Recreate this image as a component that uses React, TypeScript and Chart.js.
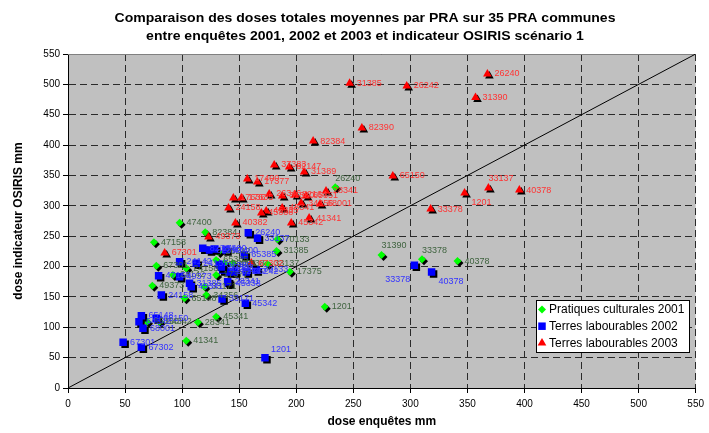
import React, { useEffect, useRef } from 'react';
import { Chart, registerables } from 'chart.js';
import { drawPoint } from 'chart.js/helpers';

Chart.register(...registerables);

// ---------- text ----------
const TITLE_LINES = [
  'Comparaison des doses totales moyennes par PRA sur 35 PRA communes',
  'entre enquêtes 2001, 2002 et 2003 et indicateur OSIRIS scénario 1',
];
const X_TITLE = 'dose enquêtes mm';
const Y_TITLE = 'dose indicateur OSIRIS mm';
const SERIES_NAMES = ['Pratiques culturales 2001', 'Terres labourables 2002', 'Terres labourables 2003'];

// ---------- axes ----------
const AXIS_MIN = 0;
const AXIS_MAX = 550;
const AXIS_STEP = 50;
const DIAGONAL = [0, 550];

// ---------- Pratiques culturales 2001 ----------
const PC2001_LABELS = ['47400', '82384', '47158', '67301', '49373', '24142', '24158', '65385', '45338', '17377', '33171', '65148', '34356', '45341', '28341', '41341', '65150', '64342', '1201', '17375', '31385', '70133', '31390', '33378', '40378', '26240', '68001', '26242', '33137'];
const PC2001_X = [97.8, 120.2, 75.3, 77.4, 73.9, 91.9, 103.6, 129.8, 144.3, 129.8, 119.6, 102.1, 121.1, 129.8, 113.8, 103.6, 69.2, 80.3, 225.0, 194.4, 182.7, 183.6, 274.7, 310.2, 341.3, 234.2, 137.1, 131.8, 174.6];
const PC2001_Y = [272.2, 256.4, 239.9, 201.4, 168.5, 186.1, 197.1, 210.8, 205.3, 186.1, 166.8, 147.7, 153.1, 117.4, 108.2, 77.9, 109.2, 109.2, 133.9, 191.5, 225.6, 244.9, 219.0, 211.9, 209.1, 330.5, 205.8, 224.0, 204.2];

// ---------- Terres labourables 2002 ----------
const TL2002_LABELS = ['1201', '33378', '40378', '67301', '67302', '24158', '65148', '64342', '68001', '65150', '45338', '33171', '45342', '26240', '33137', '82384', '82390', '47400', '24142', '24155', '31389', '41341', '47158', '49373', '31385', '45341', '17377', '82147', '28341', '65385', '70133', '17400', '37383', '26242'];
const TL2002_X = [172.6, 303.5, 318.6, 48.3, 64.3, 81.8, 64.3, 62.2, 65.7, 77.4, 140.8, 135.0, 155.4, 158.0, 166.1, 118.1, 124.0, 138.5, 97.8, 112.4, 132.7, 135.6, 79.4, 97.8, 106.5, 108.0, 141.4, 145.8, 139.9, 154.5, 165.0, 128.3, 134.4, 156.3];
const TL2002_Y = [49.9, 202.1, 191.0, 75.3, 67.0, 153.1, 119.1, 109.2, 98.3, 114.8, 172.4, 146.6, 139.5, 255.7, 246.5, 230.0, 227.2, 227.2, 208.0, 205.3, 202.5, 194.3, 184.9, 183.3, 172.4, 166.8, 191.0, 191.0, 175.0, 219.0, 194.3, 228.9, 199.2, 191.0];

// ---------- Terres labourables 2003 ----------
const TL2003_LABELS = ['31385', '26242', '26240', '31390', '82390', '82384', '65150', '33137', '1201', '40378', '33378', '37383', '82147', '31389', '17400', '17377', '17636', '17635', '26346', '31380', '82164', '65351', '28341', '34356', '68001', '45341', '45335', '45338', '24158', '41341', '45342', '40382', '49373', '67301', '67302'];
const TL2003_X = [246.8, 296.8, 367.5, 357.1, 257.5, 214.8, 284.6, 368.4, 347.5, 395.5, 317.8, 180.7, 193.8, 206.9, 157.1, 165.9, 144.9, 151.9, 176.3, 187.7, 199.0, 208.6, 226.1, 204.3, 220.9, 187.7, 173.7, 169.4, 140.6, 211.3, 195.6, 146.7, 123.1, 84.7, 160.6];
const TL2003_Y = [501.8, 497.3, 517.1, 478.2, 428.2, 406.7, 349.1, 329.4, 321.1, 326.0, 294.7, 367.2, 363.9, 355.7, 344.2, 339.2, 312.9, 312.9, 319.5, 316.2, 317.8, 316.2, 324.4, 304.6, 303.0, 296.4, 291.5, 288.2, 296.4, 279.9, 271.7, 271.7, 248.7, 222.3, 205.8];

// label placement exceptions (default: right of the marker)
const PC2001_LABEL_PLACE: Record<string, string> = { '26240': 'above', '31390': 'above', '33378': 'above' };
const TL2002_LABEL_PLACE: Record<string, string> = { '1201': 'aboveRight', '33378': 'belowLeft', '40378': 'below' };
const TL2003_LABEL_PLACE: Record<string, string> = { '33137': 'above', '1201': 'below' };

const FONT = '"Liberation Sans", Arial, sans-serif';

const toPoints = (xs: number[], ys: number[]) => xs.map((x, i) => ({ x, y: ys[i] }));

const backgroundPlugin = {
  id: 'bgPlot',
  beforeDraw(chart: any) {
    const { ctx, chartArea: a } = chart;
    ctx.save();
    ctx.fillStyle = '#ffffff';
    ctx.fillRect(0, 0, chart.width, chart.height);
    ctx.fillStyle = '#C0C0C0';
    ctx.fillRect(a.left, a.top, a.right - a.left, a.bottom - a.top);
    ctx.restore();
  },
  beforeDatasetsDraw(chart: any) {
    const { ctx, chartArea: a } = chart;
    ctx.save();
    ctx.strokeStyle = '#808080';
    ctx.lineWidth = 1;
    ctx.beginPath();
    ctx.moveTo(a.left, a.top + 0.5);
    ctx.lineTo(a.right, a.top + 0.5);
    ctx.stroke();
    ctx.restore();
  },
};

const shadowPlugin = {
  id: 'markerShadow',
  beforeDatasetDraw(chart: any, args: any) {
    const ds = chart.data.datasets[args.index];
    if (ds.showLine) return;
    const ctx = chart.ctx;
    ctx.save();
    ctx.shadowColor = '#000000';
    ctx.shadowOffsetX = 2;
    ctx.shadowOffsetY = 2;
    ctx.shadowBlur = 0;
  },
  afterDatasetDraw(chart: any, args: any) {
    const ds = chart.data.datasets[args.index];
    if (ds.showLine) return;
    chart.ctx.restore();
  },
};

const pointLabelPlugin = {
  id: 'pointLabels',
  afterDatasetsDraw(chart: any) {
    const ctx = chart.ctx;
    chart.data.datasets.forEach((ds: any, i: number) => {
      if (!ds.pointLabels) return;
      const meta = chart.getDatasetMeta(i);
      ctx.save();
      ctx.font = `9px ${FONT}`;
      ctx.fillStyle = ds.labelColor;
      ctx.textBaseline = 'middle';
      meta.data.forEach((el: any, j: number) => {
        const text = ds.pointLabels[j];
        const place = (ds.labelPlace && ds.labelPlace[text]) || 'right';
        let dx = 7;
        let dy = 0;
        let align: CanvasTextAlign = 'left';
        if (place === 'above') { dx = 0; dy = -9; }
        else if (place === 'aboveRight') { dx = 6; dy = -8; }
        else if (place === 'below') { dx = 7; dy = 10; }
        else if (place === 'belowLeft') { dx = -4; dy = 14; align = 'right'; }
        ctx.textAlign = align;
        ctx.fillText(text, el.x + dx, el.y + dy);
      });
      ctx.restore();
    });
  },
};

const titlePlugin = {
  id: 'customTitle',
  afterDraw(chart: any) {
    const ctx = chart.ctx;
    ctx.save();
    ctx.font = `bold 13.5px ${FONT}`;
    ctx.fillStyle = '#000000';
    ctx.textAlign = 'center';
    ctx.textBaseline = 'alphabetic';
    TITLE_LINES.forEach((t, i) => {
      ctx.save();
      ctx.translate(365, 22 + i * 17.5);
      ctx.scale(1.04, 1);
      ctx.fillText(t, 0, 0);
      ctx.restore();
    });
    ctx.restore();
  },
};

const legendPlugin = {
  id: 'boxLegend',
  afterDraw(chart: any) {
    const { ctx, chartArea: a } = chart;
    const items = chart.data.datasets.filter((d: any) => d.inLegend);
    ctx.save();
    ctx.font = `12px ${FONT}`;
    const textW = Math.max(...items.map((d: any) => ctx.measureText(d.label).width));
    const rowH = 16.7;
    const boxW = Math.round(13 + textW + 5);
    const boxH = Math.round(rowH * items.length + 2);
    const right = Math.round(a.right - 7);
    const bottom = Math.round(a.bottom - 36);
    const left = right - boxW;
    const top = bottom - boxH;
    ctx.fillStyle = '#ffffff';
    ctx.fillRect(left, top, boxW, boxH);
    ctx.strokeStyle = '#000000';
    ctx.lineWidth = 1;
    ctx.strokeRect(left + 0.5, top + 0.5, boxW, boxH);
    items.forEach((d: any, k: number) => {
      const cy = top + 9.5 + k * rowH;
      ctx.fillStyle = d.backgroundColor;
      drawPoint(ctx, { pointStyle: d.pointStyle, radius: d.pointRadius, borderWidth: 0, rotation: 0 } as any, left + 6, cy);
      ctx.fillStyle = '#000000';
      ctx.textAlign = 'left';
      ctx.textBaseline = 'middle';
      ctx.fillText(d.label, left + 13, cy + 0.5);
    });
    ctx.restore();
  },
};

export default function App() {
  const canvasRef = useRef<HTMLCanvasElement | null>(null);

  useEffect(() => {
    if (!canvasRef.current) return;
    Chart.defaults.font.family = FONT;
    const axisCommon = (title: string, tickPad: number) => ({
      type: 'linear' as const,
      min: AXIS_MIN,
      max: AXIS_MAX,
      ticks: {
        stepSize: AXIS_STEP,
        color: '#000000',
        font: { family: FONT, size: 10 },
        padding: tickPad,
        maxRotation: 0,
        autoSkip: false,
      },
      grid: {
        color: '#2a2a2a',
        lineWidth: 1,
        tickLength: 5,
        tickColor: '#000000',
        tickBorderDash: [],
      },
      border: { display: true, color: '#000000', width: 1, dash: [7, 4] },
      title: {
        display: true,
        text: title,
        color: '#000000',
        font: { family: FONT, size: 12, weight: 'bold' as const },
        padding: { top: 11, bottom: 4 },
      },
    });

    const chart = new Chart(canvasRef.current, {
      type: 'scatter',
      data: {
        datasets: [
          {
            label: 'diagonal',
            data: [
              { x: DIAGONAL[0], y: DIAGONAL[0] },
              { x: DIAGONAL[1], y: DIAGONAL[1] },
            ],
            showLine: true,
            borderColor: '#000000',
            borderWidth: 1,
            pointRadius: 0,
            order: 5,
          } as any,
          {
            label: SERIES_NAMES[0],
            data: toPoints(PC2001_X, PC2001_Y),
            pointStyle: 'rectRot',
            pointRadius: 4,
            backgroundColor: '#00FF00',
            borderWidth: 0,
            pointBorderWidth: 0,
            order: 3,
            inLegend: true,
            pointLabels: PC2001_LABELS,
            labelPlace: PC2001_LABEL_PLACE,
            labelColor: '#3f633f',
          } as any,
          {
            label: SERIES_NAMES[1],
            data: toPoints(TL2002_X, TL2002_Y),
            pointStyle: 'rect',
            pointRadius: 5.3,
            backgroundColor: '#0000FF',
            borderWidth: 0,
            pointBorderWidth: 0,
            order: 2,
            inLegend: true,
            pointLabels: TL2002_LABELS,
            labelPlace: TL2002_LABEL_PLACE,
            labelColor: '#3333FF',
          } as any,
          {
            label: SERIES_NAMES[2],
            data: toPoints(TL2003_X, TL2003_Y),
            pointStyle: 'triangle',
            pointRadius: 5,
            backgroundColor: '#FF0000',
            borderWidth: 0,
            pointBorderWidth: 0,
            order: 1,
            inLegend: true,
            pointLabels: TL2003_LABELS,
            labelPlace: TL2003_LABEL_PLACE,
            labelColor: '#FF3333',
          } as any,
        ],
      },
      options: {
        responsive: false,
        animation: false,
        events: [],
        layout: { padding: { top: 54, left: 0, right: 11, bottom: 0 } },
        plugins: {
          legend: { display: false },
          tooltip: { enabled: false },
          title: { display: false },
        },
        scales: {
          x: {
            ...axisCommon(X_TITLE, 5),
            position: 'bottom',
            afterFit: (s: any) => {
              s.height = 45;
            },
          },
          y: {
            ...axisCommon(Y_TITLE, 3),
            position: 'left',
            afterFit: (s: any) => {
              s.width = 68;
            },
          },
        } as any,
      },
      plugins: [backgroundPlugin, shadowPlugin, pointLabelPlugin, titlePlugin, legendPlugin],
    });
    return () => chart.destroy();
  }, []);

  return (
    <div style={{ position: 'absolute', left: 0, top: 0, width: 709, height: 433, background: '#ffffff' }}>
      <canvas ref={canvasRef} width={709} height={433} style={{ display: 'block' }} />
    </div>
  );
}
